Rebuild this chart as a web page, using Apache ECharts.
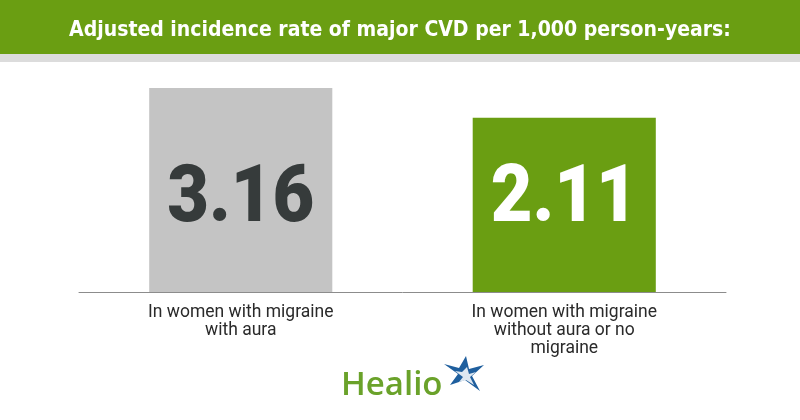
<!DOCTYPE html>
<html>
<head>
<meta charset="utf-8">
<script src="https://cdn.jsdelivr.net/npm/echarts@6/dist/echarts.min.js"></script>
<style>html,body{margin:0;padding:0;background:#fff}#c{width:800px;height:420px}</style>
</head>
<body>
<div id="c"></div>
<script>
var title = 'Adjusted incidence rate of major CVD per 1,000 person-years:';
var categories = ['In women with migraine\nwith aura', 'In women with migraine\nwithout aura or no\nmigraine'];
var rates = [3.16, 2.11];
var barColors = ['#c4c4c4', '#6a9e12'];
var labelColors = ['#363b3b', '#ffffff'];
var yMin = -4, yMax = 4;

var chart = echarts.init(document.getElementById('c'), null, {renderer: 'canvas'});
chart.setOption({
  animation: false,
  grid: {left: 79, right: 74, top: 64, bottom: 128},
  xAxis: {
    type: 'category', data: categories, z: 5,
    axisLine: {onZero: false, lineStyle: {color: '#8c8c8c', width: 1}},
    axisTick: {show: false},
    axisLabel: {color: '#2a2a2a', fontFamily: 'Roboto', fontSize: 17.5, lineHeight: 18, margin: 12}
  },
  yAxis: {type: 'value', min: yMin, max: yMax, show: false, splitLine: {show: false}},
  graphic: [
    {type: 'rect', shape: {x: 0, y: 0, width: 800, height: 54}, style: {fill: '#6a9e12'}, z: 10},
    {type: 'rect', shape: {x: 0, y: 54, width: 800, height: 8}, style: {fill: '#dcdcdc'}, z: 10},
    {type: 'text', x: 400, y: 31, z: 11, style: {text: title, fill: '#fff', fontFamily: '"Liberation Sans Narrow", "DejaVu Sans Condensed", Roboto', fontWeight: 'bold', fontSize: 21, align: 'center', verticalAlign: 'middle'}},
    {type: 'text', x: 341, y: 386, z: 11, style: {text: 'Healio', fill: '#6aa22a', fontFamily: '"Open Sans", Lato, sans-serif', fontWeight: 600, fontSize: 33, align: 'left', verticalAlign: 'middle'}},
    {type: 'polygon', z: 11, shape: {points: [[466,356],[469,369],[484,365],[472,376],[480,391],[465,380],[450,385],[458,374],[444,364],[459,368]]}, style: {fill: '#1f5f9e'}},
    {type: 'polygon', z: 12, shape: {points: [[467,367],[469,374],[476,372],[470,377],[474,385],[466,380],[459,382],[463,377],[455,371],[462,372]]}, style: {fill: '#ffffff', opacity: 0.85}}
  ],
  series: [{
    type: 'custom',
    data: rates.map(function (v, i) { return [i, v]; }),
    encode: {x: 0, y: 1},
    renderItem: function (params, api) {
      var i = api.value(0), v = api.value(1);
      var top = api.coord([i, v]);
      var base = api.coord([i, yMin]);
      var w = api.size([1, 0])[0] * 0.566;
      return {
        type: 'group',
        children: [
          {type: 'rect', shape: {x: top[0] - w / 2, y: top[1], width: w, height: base[1] - top[1]}, style: {fill: barColors[i]}},
          {type: 'text', x: top[0], y: base[1] - 91, scaleX: 0.9, style: {text: v.toFixed(2), fill: labelColors[i], fontFamily: 'Roboto', fontWeight: 900, fontSize: 80, align: 'center', verticalAlign: 'middle'}}
        ]
      };
    }
  }]
});
</script>
</body>
</html>
